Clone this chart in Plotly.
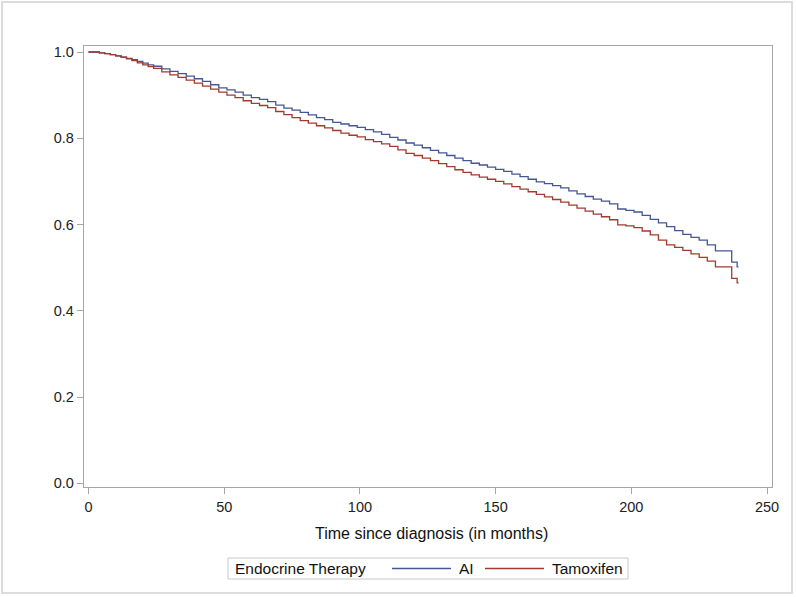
import plotly.graph_objects as go

# ---- data ----
months = [0, 2, 4, 6, 8, 10, 12, 14, 16, 18, 20, 22, 24, 27, 30, 33, 36, 39, 42, 45,
          48, 51, 54, 57, 60, 63, 66, 69, 72, 75, 78, 81, 84, 87, 90, 93, 96, 99, 102,
          105, 108, 111, 114, 117, 120, 123, 126, 129, 132, 135, 138, 141, 144, 147,
          150, 153, 156, 159, 162, 165, 168, 171, 174, 177, 180, 183, 186, 189, 192,
          195, 198, 201, 204, 207, 210, 213, 216, 219, 222, 225, 228, 231, 234, 236,
          237, 238, 239, 239.5]

surv_ai = [1.000, 1.000, 0.998, 0.996, 0.994, 0.991, 0.988, 0.985, 0.982, 0.978, 0.974,
           0.970, 0.967, 0.961, 0.955, 0.950, 0.944, 0.938, 0.932, 0.924, 0.917, 0.912,
           0.907, 0.900, 0.894, 0.890, 0.885, 0.877, 0.870, 0.865, 0.860, 0.854, 0.848,
           0.843, 0.837, 0.833, 0.829, 0.825, 0.820, 0.815, 0.809, 0.802, 0.796, 0.789,
           0.784, 0.778, 0.772, 0.766, 0.760, 0.754, 0.748, 0.742, 0.738, 0.733, 0.728,
           0.723, 0.717, 0.711, 0.705, 0.699, 0.695, 0.690, 0.685, 0.678, 0.671, 0.665,
           0.659, 0.654, 0.648, 0.636, 0.633, 0.629, 0.621, 0.612, 0.604, 0.595, 0.586,
           0.577, 0.570, 0.564, 0.553, 0.539, 0.539, 0.539, 0.513, 0.513, 0.502, 0.502]

surv_tam = [1.000, 1.000, 0.998, 0.996, 0.994, 0.991, 0.988, 0.984, 0.980, 0.975, 0.970,
            0.966, 0.962, 0.954, 0.947, 0.941, 0.935, 0.928, 0.921, 0.914, 0.907, 0.900,
            0.894, 0.887, 0.881, 0.876, 0.871, 0.862, 0.855, 0.848, 0.841, 0.835, 0.829,
            0.824, 0.818, 0.812, 0.807, 0.803, 0.797, 0.792, 0.787, 0.781, 0.773, 0.765,
            0.760, 0.754, 0.748, 0.741, 0.734, 0.727, 0.721, 0.715, 0.710, 0.705, 0.700,
            0.694, 0.688, 0.682, 0.676, 0.670, 0.664, 0.658, 0.652, 0.645, 0.638, 0.631,
            0.624, 0.618, 0.611, 0.599, 0.597, 0.593, 0.585, 0.576, 0.564, 0.553, 0.547,
            0.540, 0.532, 0.524, 0.515, 0.502, 0.502, 0.502, 0.475, 0.475, 0.465, 0.465]

group_names = ["AI", "Tamoxifen"]
group_colors = ["#445694", "#A23A2E"]
legend_title = "Endocrine Therapy"
x_title = "Time since diagnosis (in months)"
x_ticks = [0, 50, 100, 150, 200, 250]
y_ticks = [0.0, 0.2, 0.4, 0.6, 0.8, 1.0]

FONT = "Liberation Sans, Arial, sans-serif"
TXT = "#333333"
AXC = "#a6a6a6"

fig = go.Figure()
for name, ys, col in zip(group_names, [surv_ai, surv_tam], group_colors):
    fig.add_trace(go.Scatter(x=months, y=ys, mode="lines", name=name,
                             line=dict(color=col, width=1.3, shape="hv"),
                             showlegend=False))

# plot-area geometry (pixels) used for paper-coordinate placement
L, R, T, B = 84, 24, 46, 110
W, H = 796, 597
PW, PH = W - L - R, H - T - B


def px(x):
    return (x - L) / PW


def py(y):
    return (H - B - y) / PH


shapes = [
    # outer frame
    dict(type="rect", xref="paper", yref="paper", x0=px(2), x1=px(792), y0=py(593), y1=py(2),
         line=dict(color="#dcdcdc", width=2), layer="below"),
    # legend box
    dict(type="rect", xref="paper", yref="paper", x0=px(228), x1=px(628), y0=py(579), y1=py(558),
         line=dict(color="#c8c8c8", width=1)),
    dict(type="line", xref="paper", yref="paper", x0=px(392), x1=px(451), y0=py(568.5), y1=py(568.5),
         line=dict(color=group_colors[0], width=1.3)),
    dict(type="line", xref="paper", yref="paper", x0=px(485), x1=px(544), y0=py(568.5), y1=py(568.5),
         line=dict(color=group_colors[1], width=1.3)),
]

annotations = [
    dict(text=legend_title, x=px(233), y=py(568.5), xref="paper", yref="paper",
         xanchor="left", yanchor="middle", showarrow=False, font=dict(size=15.5, color="#111")),
    dict(text=group_names[0], x=px(457), y=py(568.5), xref="paper", yref="paper",
         xanchor="left", yanchor="middle", showarrow=False, font=dict(size=15.5, color="#111")),
    dict(text=group_names[1], x=px(550), y=py(568.5), xref="paper", yref="paper",
         xanchor="left", yanchor="middle", showarrow=False, font=dict(size=15.5, color="#111")),
    dict(text=x_title, x=px(431), y=py(533), xref="paper", yref="paper",
         xanchor="center", yanchor="middle", showarrow=False, font=dict(size=16, color="#111")),
]

fig.update_layout(
    width=W, height=H,
    margin=dict(l=L, r=R, t=T, b=B, pad=0),
    paper_bgcolor="white", plot_bgcolor="white",
    font=dict(family=FONT, size=14.5, color=TXT),
    shapes=shapes, annotations=annotations,
    xaxis=dict(range=[-1.66, 251.84], tickvals=x_ticks, showgrid=False, zeroline=False,
               showline=True, mirror=True, linecolor=AXC, linewidth=1.3,
               ticks="outside", ticklen=6, tickcolor=AXC, tickwidth=1.3,
               tickfont=dict(size=14.5, color="#222")),
    yaxis=dict(range=[-0.0086, 1.0139], tickvals=y_ticks, tickformat=".1f", showgrid=False,
               zeroline=False, showline=True, mirror=True, linecolor=AXC, linewidth=1.3,
               ticks="outside", ticklen=6, tickcolor=AXC, tickwidth=1.3,
               tickfont=dict(size=14.5, color="#222")),
)

fig.write_html("out.html", config={"displayModeBar": False},
               post_script="document.body.style.margin='0';document.body.style.overflow='hidden';")
